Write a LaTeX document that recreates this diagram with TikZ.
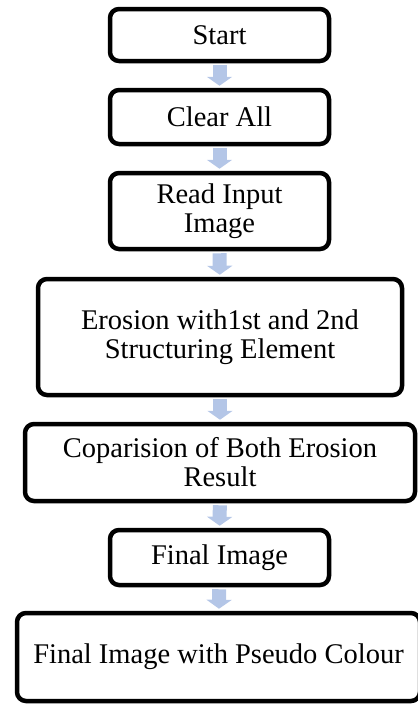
\documentclass[tikz,border=0pt]{standalone}
\usepackage{fontspec}
\setmainfont{Liberation Serif}
\usetikzlibrary{arrows.meta}
\definecolor{arrowblue}{HTML}{B4C6E7}
\begin{document}
\begin{tikzpicture}[x=1pt,y=-1pt,
  box/.style={draw=black, line width=4.5pt, rounded corners=9pt, align=center,
    font=\fontsize{28.5}{29}\selectfont, inner sep=0pt},
  flow/.style={draw=arrowblue, line width=14pt, line cap=butt,
    -{Triangle[width=25pt,length=9pt]}, shorten >=2pt, shorten <=2pt}]
\useasboundingbox (0,0) rectangle (418,705);
\node[box, minimum width=219, minimum height=52] (start) at (219.5,35) {Start};
\node[box, minimum width=219, minimum height=54] (clear) at (219.5,117) {Clear All};
\node[box, minimum width=219, minimum height=76] (read) at (219.5,211) {Read Input\\Image};
\node[box, minimum width=364, minimum height=116] (erosion) at (220,337) {Erosion with1st and 2nd\\Structuring Element};
\node[box, minimum width=390, minimum height=77] (compare) at (220,462.5) {Coparision of Both Erosion\\Result};
\node[box, minimum width=219, minimum height=55] (final) at (219.5,557.5) {Final Image};
\node[box, minimum width=403, minimum height=88] (pseudo) at (218.5,657) {Final Image with Pseudo Colour};
\draw[flow] (start) -- (clear);
\draw[flow] (clear) -- (read);
\draw[flow] (read) -- (erosion);
\draw[flow] (erosion) -- (compare);
\draw[flow] (compare) -- (final);
\draw[flow] (final) -- (pseudo);
\end{tikzpicture}
\end{document}
